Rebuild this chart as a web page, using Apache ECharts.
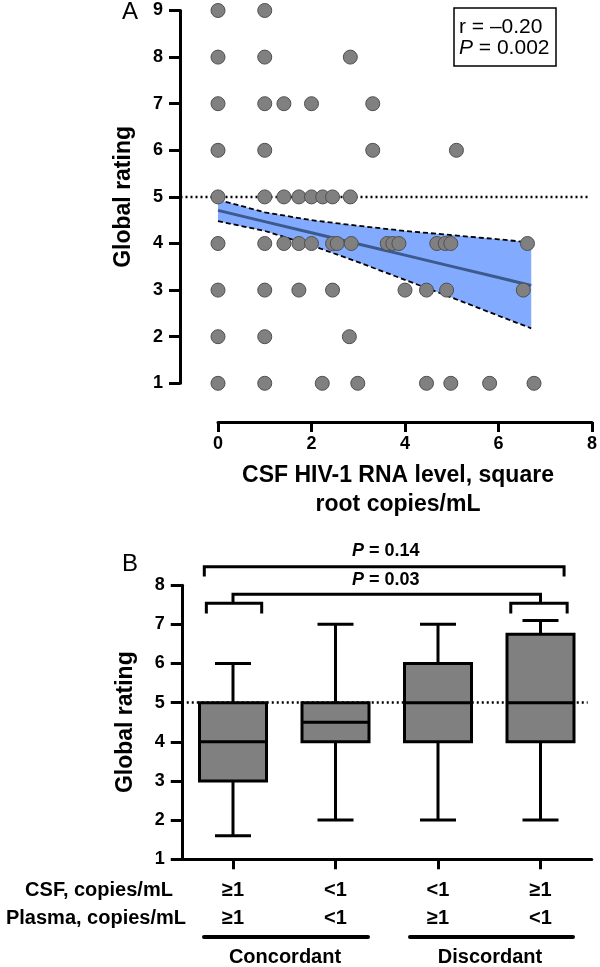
<!DOCTYPE html>
<html><head><meta charset="utf-8">
<script src="https://cdn.jsdelivr.net/npm/echarts@6/dist/echarts.min.js"></script>
<style>html,body{margin:0;padding:0;background:#fff}#c{width:600px;height:967px}</style>
</head><body><div id="c"></div>
<script>
// ---------- Panel A data: CSF HIV-1 RNA (sqrt copies/mL) vs global rating ----------
const xTicksA = [0, 2, 4, 6, 8];
const rating9 = [0, 1];
const rating8 = [0, 1, 2.83];
const rating7 = [0, 1, 1.41, 2.0, 3.31];
const rating6 = [0, 1, 3.31, 5.1];
const rating5 = [0, 1, 1.41, 1.73, 2.0, 2.24, 2.45, 2.83];
const rating4 = [0, 1, 1.41, 1.73, 2.0, 2.45, 2.55, 2.85, 3.62, 3.74, 3.87, 4.68, 4.86, 4.98, 6.62];
const rating3 = [0, 1, 1.73, 2.45, 4.0, 4.46, 4.89, 6.53];
const rating2 = [0, 1, 2.81];
const rating1 = [0, 1, 2.23, 2.99, 4.46, 4.98, 5.81, 6.76];
// regression line and 95% CI band
const fitX    = [0, 1, 2, 3, 4, 5, 6, 6.7];
const fitY    = [4.71, 4.47, 4.23, 3.99, 3.75, 3.51, 3.27, 3.10];
const ciUpper = [4.94, 4.67, 4.50, 4.38, 4.27, 4.18, 4.09, 4.02];
const ciLower = [4.48, 4.27, 3.96, 3.60, 3.22, 2.84, 2.45, 2.18];
const refLineA = 5;
const refLineAX = [-0.8, 7.93];

// ---------- Panel B data: box plots ----------
const csfLabels    = ['≥1', '<1', '<1', '≥1'];
const plasmaLabels = ['≥1', '<1', '≥1', '<1'];
const boxMin    = [1.6, 2, 2, 2];
const boxQ1     = [3, 4, 4, 4];
const boxMedian = [4, 4.5, 5, 5];
const boxQ3     = [5, 5, 6, 6.75];
const boxMax    = [6, 7, 7, 7.1];
const refLineB = 5;
// significance brackets (x in category units, y in rating units)
const bracketX1  = [-0.28, 0, -0.26, 2.71];
const bracketX2  = [3.23, 3, 0.28, 3.26];
const bracketTop = [8.47, 7.77, 7.54, 7.54];
const bracketEnd = [8.22, 7.54, 7.28, 7.28];
const pText = ['0.14', '0.03'];
const pX = [1.49, 1.49];
const pY = [8.88, 8.13];

const FONT = "'Liberation Sans', Arial, sans-serif";
const chart = echarts.init(document.getElementById('c'), null, {renderer: 'canvas'});

const rows = [[9, rating9],[8, rating8],[7, rating7],[6, rating6],[5, rating5],[4, rating4],[3, rating3],[2, rating2],[1, rating1]];
const scatterData = [];
rows.forEach(([r, xs]) => xs.forEach(x => scatterData.push([x, r])));

const cats = csfLabels.map((c, i) => c + '\n' + plasmaLabels[i]);
const boxData = boxMin.map((v, i) => [i, v, boxQ1[i], boxMedian[i], boxQ3[i], boxMax[i]]);
const bracketData = bracketX1.map((v, i) => [v, bracketX2[i], bracketTop[i], bracketEnd[i]]);
const pData = pX.map((v, i) => [v, pY[i], i]);
const bandData = fitX.map((x, i) => [x, ciLower[i], ciUpper[i]]);

const axisCommon = {
  axisLine: {show: true, onZero: false, lineStyle: {color: '#000', width: 3}},
  axisTick: {show: true, length: 11, lineStyle: {color: '#000', width: 3}},
  splitLine: {show: false},
};
const tickLabel = {color: '#000', fontSize: 18, fontWeight: 'bold', fontFamily: FONT};
const lineStyleBlack = {stroke: '#000', lineWidth: 3};
const dotted = {color: '#000', width: 2.5, type: [2, 3]};

const option = {
  animation: false,
  backgroundColor: '#fff',
  grid: [
    {left: 218, top: 10.5, width: 375, height: 372.8},
    {left: 181.75, top: 585.2, width: 410, height: 274},
    {left: 180.5, top: 10.5, width: 409.1, height: 372.8}
  ],
  xAxis: [
    Object.assign({}, axisCommon, {
      type: 'value', gridIndex: 0, min: 0, max: 8, interval: 2, offset: 38.7,
      axisTick: {show: true, length: 10, lineStyle: {color: '#000', width: 3}},
      axisLabel: Object.assign({}, tickLabel, {margin: 13, customValues: xTicksA})
    }),
    Object.assign({}, axisCommon, {
      type: 'category', gridIndex: 1, data: cats, boundaryGap: true,
      axisTick: {show: true, alignWithLabel: true, length: 10, lineStyle: {color: '#000', width: 3}},
      axisLabel: {color: '#000', fontSize: 20, fontWeight: 'bold', fontFamily: FONT, lineHeight: 28, margin: 17, interval: 0}
    }),
    {type: 'value', gridIndex: 1, min: -0.5, max: 3.5, show: false},
    {type: 'value', gridIndex: 2, min: refLineAX[0], max: refLineAX[1], show: false}
  ],
  yAxis: [
    Object.assign({}, axisCommon, {
      type: 'value', gridIndex: 0, min: 1, max: 9, interval: 1, offset: 38,
      axisLabel: Object.assign({}, tickLabel, {margin: 17}),
      name: 'Global rating', nameLocation: 'middle', nameGap: 45,
      nameTextStyle: {color: '#000', fontSize: 23, fontWeight: 'bold', fontFamily: FONT}
    }),
    Object.assign({}, axisCommon, {
      type: 'value', gridIndex: 1, min: 1, max: 8, interval: 1,
      axisLabel: Object.assign({}, tickLabel, {margin: 17}),
      name: 'Global rating', nameLocation: 'middle', nameGap: 45,
      nameTextStyle: {color: '#000', fontSize: 23, fontWeight: 'bold', fontFamily: FONT}
    }),
    {type: 'value', gridIndex: 2, min: 1, max: 9, show: false}
  ],
  series: [
    // reference line at rating 5 (panel A), spanning from the y-axis
    {
      type: 'line', xAxisIndex: 3, yAxisIndex: 2, z: 1, symbol: 'none', silent: true, clip: false,
      data: refLineAX.map(x => [x, refLineA]),
      lineStyle: dotted
    },
    // CI band
    {
      type: 'custom', xAxisIndex: 0, yAxisIndex: 0, z: 1, silent: true, clip: false,
      data: bandData,
      encode: {x: 0, y: [1, 2]},
      renderItem: function (params, api) {
        if (params.dataIndex !== 0) return null;
        const pts = [];
        for (let i = 0; i < bandData.length; i++) pts.push(api.coord([bandData[i][0], bandData[i][2]]));
        for (let i = bandData.length - 1; i >= 0; i--) pts.push(api.coord([bandData[i][0], bandData[i][1]]));
        return {type: 'polygon', shape: {points: pts}, style: {fill: '#82aaff', stroke: null}};
      }
    },
    {
      type: 'line', xAxisIndex: 0, yAxisIndex: 0, z: 2, symbol: 'none', silent: true,
      data: fitX.map((x, i) => [x, ciLower[i]]),
      lineStyle: {color: '#000', width: 1.8, type: [5, 3]}
    },
    {
      type: 'line', xAxisIndex: 0, yAxisIndex: 0, z: 2, symbol: 'none', silent: true,
      data: fitX.map((x, i) => [x, ciUpper[i]]),
      lineStyle: {color: '#000', width: 1.8, type: [5, 3]}
    },
    {
      type: 'line', xAxisIndex: 0, yAxisIndex: 0, z: 3, symbol: 'none', silent: true,
      data: fitX.map((x, i) => [x, fitY[i]]),
      lineStyle: {color: '#3d5a8c', width: 3}
    },
    {
      type: 'scatter', xAxisIndex: 0, yAxisIndex: 0, z: 4, symbol: 'circle', symbolSize: 14,
      data: scatterData,
      itemStyle: {color: '#808080', borderColor: '#505050', borderWidth: 1, opacity: 1}
    },
    {
      type: 'custom', xAxisIndex: 2, yAxisIndex: 1, z: 2, clip: false, silent: true,
      data: bracketData,
      encode: {x: [0, 1], y: [2, 3]},
      renderItem: function (params, api) {
        const a = api.coord([api.value(0), api.value(3)]);
        const b = api.coord([api.value(0), api.value(2)]);
        const c = api.coord([api.value(1), api.value(2)]);
        const d = api.coord([api.value(1), api.value(3)]);
        return {type: 'polyline', shape: {points: [a, b, c, d]}, style: {stroke: '#000', lineWidth: 3, fill: null}};
      },
      markLine: {
        silent: true, symbol: 'none', z: 1, animation: false,
        label: {show: false},
        lineStyle: dotted,
        data: [[{coord: [-0.5, refLineB]}, {coord: [3.46, refLineB]}]]
      }
    },
    {
      type: 'custom', xAxisIndex: 2, yAxisIndex: 1, z: 3, clip: false, silent: true,
      data: pData,
      encode: {x: 0, y: 1},
      renderItem: function (params, api) {
        const p = api.coord([api.value(0), api.value(1)]);
        const t = pText[api.value(2)];
        return {type: 'text', x: p[0], y: p[1], style: {
          text: '{i|P} = ' + t, fill: '#000', fontSize: 18, fontWeight: 'bold', fontFamily: FONT,
          align: 'center', verticalAlign: 'middle',
          rich: {i: {fontStyle: 'italic', fontWeight: 'bold', fontSize: 18, fontFamily: FONT, fill: '#000'}}
        }};
      }
    },
    {
      type: 'custom', xAxisIndex: 1, yAxisIndex: 1, z: 3, clip: false, silent: true,
      data: boxData,
      encode: {x: 0, y: [1, 2, 3, 4, 5]},
      renderItem: function (params, api) {
        const i = api.value(0);
        const p = [1, 2, 3, 4, 5].map(d => api.coord([i, api.value(d)]));
        const x = p[0][0];
        const bw = 67, cw = 36;
        return {type: 'group', children: [
          {type: 'line', shape: {x1: x, y1: p[0][1], x2: x, y2: p[1][1]}, style: lineStyleBlack},
          {type: 'line', shape: {x1: x, y1: p[3][1], x2: x, y2: p[4][1]}, style: lineStyleBlack},
          {type: 'line', shape: {x1: x - cw / 2, y1: p[0][1], x2: x + cw / 2, y2: p[0][1]}, style: lineStyleBlack},
          {type: 'line', shape: {x1: x - cw / 2, y1: p[4][1], x2: x + cw / 2, y2: p[4][1]}, style: lineStyleBlack},
          {type: 'rect', shape: {x: x - bw / 2, y: p[3][1], width: bw, height: p[1][1] - p[3][1]},
            style: {fill: '#808080', stroke: '#000', lineWidth: 3}},
          {type: 'line', shape: {x1: x - bw / 2, y1: p[2][1], x2: x + bw / 2, y2: p[2][1]}, style: lineStyleBlack}
        ]};
      }
    }
  ],
  graphic: [
    {type: 'text', x: 130, y: 12, style: {text: 'A', fontSize: 24, fontFamily: FONT, fill: '#000', align: 'center', verticalAlign: 'middle'}},
    {type: 'rect', shape: {x: 454, y: 8, width: 102, height: 58}, style: {fill: '#fff', stroke: '#000', lineWidth: 1.5}, z: 10},
    {type: 'text', x: 459, y: 37.5, z: 11, style: {
      text: 'r = –0.20\n{i|P} = 0.002', fontSize: 21, lineHeight: 21, fontFamily: FONT, fill: '#000',
      align: 'left', verticalAlign: 'middle',
      rich: {i: {fontStyle: 'italic', fontSize: 21, fontFamily: FONT, fill: '#000'}}
    }},
    {type: 'text', x: 398, y: 490, style: {
      text: 'CSF HIV-1 RNA level, square\nroot copies/mL', fontSize: 23, fontWeight: 'bold', lineHeight: 29,
      fontFamily: FONT, fill: '#000', align: 'center', verticalAlign: 'middle'}},
    {type: 'text', x: 130, y: 564, style: {text: 'B', fontSize: 24, fontFamily: FONT, fill: '#000', align: 'center', verticalAlign: 'middle'}},
    {type: 'text', x: 99, y: 890, style: {text: 'CSF, copies/mL', fontSize: 20, fontWeight: 'bold', fontFamily: FONT, fill: '#000', align: 'center', verticalAlign: 'middle'}},
    {type: 'text', x: 96, y: 918, style: {text: 'Plasma, copies/mL', fontSize: 20, fontWeight: 'bold', fontFamily: FONT, fill: '#000', align: 'center', verticalAlign: 'middle'}},
    {type: 'line', shape: {x1: 204, y1: 937, x2: 368, y2: 937}, style: {stroke: '#000', lineWidth: 4, lineCap: 'round'}},
    {type: 'line', shape: {x1: 410, y1: 937, x2: 573, y2: 937}, style: {stroke: '#000', lineWidth: 4, lineCap: 'round'}},
    {type: 'text', x: 285, y: 957, style: {text: 'Concordant', fontSize: 20, fontWeight: 'bold', fontFamily: FONT, fill: '#000', align: 'center', verticalAlign: 'middle'}},
    {type: 'text', x: 490, y: 957, style: {text: 'Discordant', fontSize: 20, fontWeight: 'bold', fontFamily: FONT, fill: '#000', align: 'center', verticalAlign: 'middle'}}
  ]
};
chart.setOption(option);
</script>
</body></html>
